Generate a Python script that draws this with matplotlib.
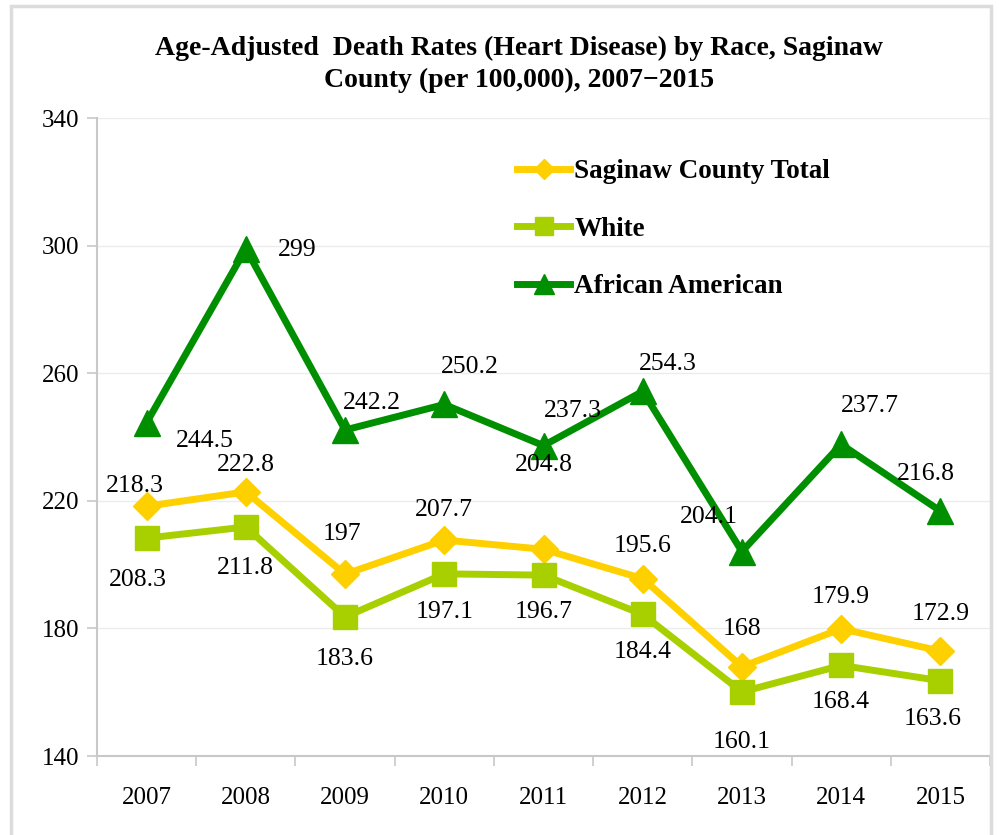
import matplotlib
matplotlib.use("Agg")
import matplotlib.pyplot as plt
from matplotlib.patches import Rectangle

# data
years = ["2007", "2008", "2009", "2010", "2011", "2012", "2013", "2014", "2015"]
total = [218.3, 222.8, 197, 207.7, 204.8, 195.6, 168, 179.9, 172.9]
white = [208.3, 211.8, 183.6, 197.1, 196.7, 184.4, 160.1, 168.4, 163.6]
african_american = [244.5, 299, 242.2, 250.2, 237.3, 254.3, 204.1, 237.7, 216.8]
series_names = ["Saginaw County Total", "White", "African American"]
yticks = [140, 180, 220, 260, 300, 340]

# label offsets in pixels (dx right, dy down) relative to each marker
off_total = [(-12, -20), (0, -27), (-3, -40), (0, -30), (0, -84), (0, -33), (0, -38), (0, -32), (0, -37)]
off_white = [(-9, 42), (0, 41), (0, 42), (0, 38), (0, 37), (0, 38), (0, 50), (0, 37), (-8, 38)]
off_aa = [(58, 18), (51, 1), (27, -27), (26, -37), (29, -35), (25, -27), (-33, -35), (29, -38), (-15, -37)]

c_total = "#FFD000"
c_white = "#A8D000"
c_aa = "#008F00"

plt.rcParams["font.family"] = ["Liberation Serif", "DejaVu Serif"]

fig = plt.figure(figsize=(9.99, 8.35), dpi=100)
ax = fig.add_axes([97 / 999, 1 - 756 / 835, (990 - 97) / 999, (756 - 118) / 835])

x = list(range(len(years)))
ax.plot(x, total, color=c_total, lw=5, marker="D", ms=14, mec=c_total,
        label=series_names[0], zorder=3)
ax.plot(x, white, color=c_white, lw=5, marker="s", ms=17, mec=c_white,
        label=series_names[1], zorder=3)
ax.plot(x, african_american, color=c_aa, lw=5, marker="^", ms=19, mec=c_aa,
        label=series_names[2], zorder=3)

def put_labels(vals, offs):
    for i, (v, (dx, dy)) in enumerate(zip(vals, offs)):
        ax.annotate(f"{v:g}", (i, v), xytext=(dx * 0.72, -dy * 0.72),
                    textcoords="offset points", ha="center", va="center",
                    fontsize=18.5, zorder=5)

put_labels(total, off_total)
put_labels(white, off_white)
put_labels(african_american, off_aa)

ax.set_xlim(-0.5, len(years) - 0.5)
ax.set_ylim(140, 340)
ax.set_yticks(yticks)
ax.set_yticklabels([str(t) for t in yticks], fontsize=18)
ax.set_xticks(x)
ax.set_xticklabels(years, fontsize=18)
ax.set_xticks([i - 0.5 for i in range(len(years) + 1)], minor=True)
ax.tick_params(axis="x", which="major", length=0, pad=22)
ax.tick_params(axis="x", which="minor", length=7, color="#c8c8c8", width=1.2)
ax.tick_params(axis="y", length=7, color="#c8c8c8", width=1.2, pad=6)
ax.grid(axis="y", color="#ececec", lw=1)
ax.set_axisbelow(True)
for s in ["top", "right"]:
    ax.spines[s].set_visible(False)
for s in ["left", "bottom"]:
    ax.spines[s].set_color("#c8c8c8")
    ax.spines[s].set_linewidth(1.5)

leg = ax.legend(loc="upper left", bbox_to_anchor=(493 / 999, 1 - 135 / 835),
                bbox_transform=fig.transFigure, frameon=False, markerscale=0.75,
                handlelength=1.95, handletextpad=0.15, labelspacing=1.2,
                prop={"weight": "bold", "size": 19.5})

fig.text(519 / 999, 1 - 48 / 835, "Age-Adjusted  Death Rates (Heart Disease) by Race, Saginaw",
         ha="center", va="center", fontsize=20, fontweight="bold")
fig.text(519 / 999, 1 - 80 / 835, "County (per 100,000), 2007\u22122015",
         ha="center", va="center", fontsize=20, fontweight="bold")

fig.patches.append(Rectangle((11 / 999, -0.05), (991 - 11) / 999, 1 - 6 / 835 + 0.05,
                             transform=fig.transFigure, fill=False,
                             edgecolor="#dcdcdc", lw=2.5))

fig.savefig("out.png", dpi=100)
